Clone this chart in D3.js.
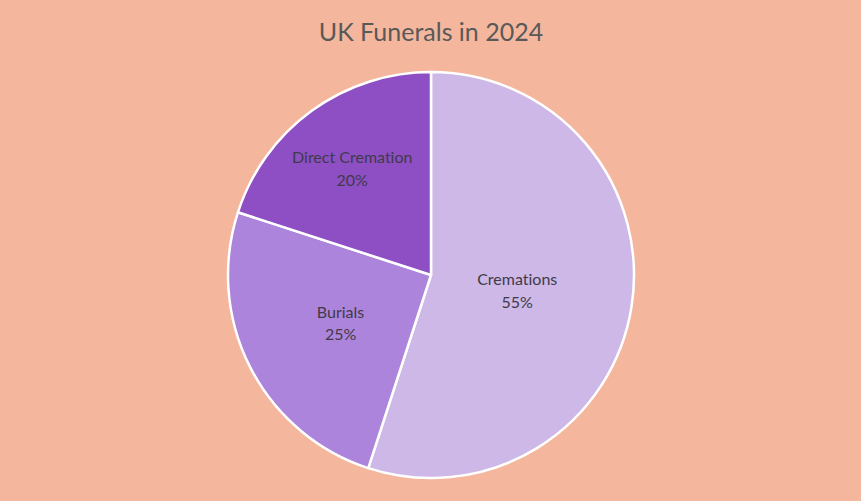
<!DOCTYPE html>
<html>
<head>
<meta charset="utf-8">
<script src="https://cdn.jsdelivr.net/npm/d3@7"></script>
<style>
  html, body { margin: 0; padding: 0; background: #F4B79E; }
  svg { display: block; }
  text { font-variant-ligatures: none; }
</style>
</head>
<body>
<svg id="chart" width="861" height="501"></svg>
<script>
// chart data
var categories = ["Cremations", "Burials", "Direct Cremation"];
var shares = [55, 25, 20];
var sliceColors = ["#CDB8E7", "#AD84DB", "#8D4FC3"];

var width = 861, height = 501;
var cx = 431, cy = 275, radius = 203;
// how far out each label sits, as a fraction of the radius
var labelFrac = [0.43, 0.5, 0.66];

var svg = d3.select("#chart");

svg.append("rect")
    .attr("width", width)
    .attr("height", height)
    .attr("fill", "#F4B79E");

svg.append("text")
    .attr("x", cx)
    .attr("y", 41)
    .attr("text-anchor", "middle")
    .style("font-family", "Lato, 'Open Sans', sans-serif")
    .style("font-size", "25px")
    .style("fill", "#595959")
    .text("UK Funerals in 2024");

var pie = d3.pie().sort(null).value(function(d) { return d; });
var arcs = pie(shares);

var arc = d3.arc().innerRadius(0).outerRadius(radius);

var g = svg.append("g").attr("transform", "translate(" + cx + "," + cy + ")");

g.selectAll("path.slice")
    .data(arcs)
    .enter().append("path")
    .attr("class", "slice")
    .attr("d", arc)
    .attr("fill", function(d, i) { return sliceColors[i]; })
    .attr("stroke", "#ffffff")
    .attr("stroke-width", 2.5)
    .attr("stroke-linejoin", "round");

var labels = g.selectAll("text.lbl")
    .data(arcs)
    .enter().append("text")
    .attr("class", "lbl")
    .attr("transform", function(d, i) {
        var r = radius * labelFrac[i];
        var c = d3.arc().innerRadius(r).outerRadius(r).centroid(d);
        return "translate(" + c[0] + "," + c[1] + ")";
    })
    .attr("text-anchor", "middle")
    .style("font-family", "Lato, 'Open Sans', sans-serif")
    .style("font-size", "16px")
    .style("fill", "#403A4A");

labels.append("tspan")
    .attr("x", 0)
    .attr("dy", "-0.2em")
    .text(function(d, i) { return categories[i]; });

labels.append("tspan")
    .attr("x", 0)
    .attr("dy", "1.4em")
    .text(function(d) { return d.data + "%"; });
</script>
</body>
</html>
